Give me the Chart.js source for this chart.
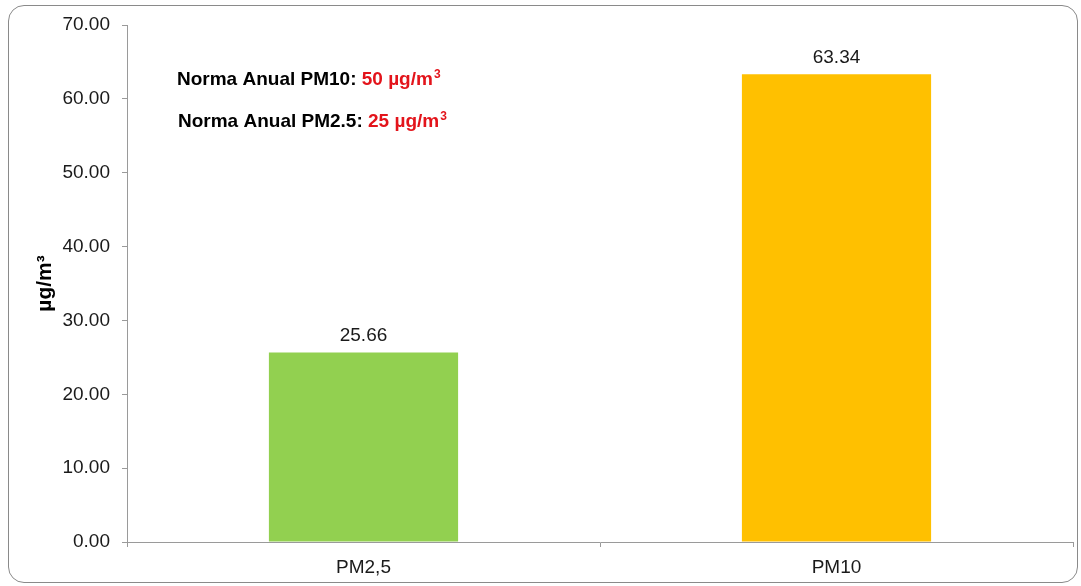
<!DOCTYPE html>
<html>
<head>
<meta charset="utf-8">
<script src="https://cdn.jsdelivr.net/npm/chart.js@4.4.1/dist/chart.umd.min.js"></script>
<style>
  html, body { margin: 0; padding: 0; background: #fff; }
  #wrap { position: relative; width: 1081px; height: 586px; }
  #frame {
    position: absolute; left: 8px; top: 5px; width: 1070px; height: 578px;
    border: 1.5px solid #8a8a8a; border-radius: 16px; box-sizing: border-box;
  }
  canvas { position: absolute; left: 0; top: 0; }
</style>
</head>
<body>
<div id="wrap">
  <div id="frame"></div>
  <canvas id="c" width="1081" height="586"></canvas>
</div>
<script>
// Annual mean concentrations by particle fraction
const categories = ['PM2,5', 'PM10'];
const concentrations = [25.66, 63.34];
const barColors = ['#92d050', '#ffc000'];
const yTicks = [0, 10, 20, 30, 40, 50, 60, 70];
const yUnit = 'µg/m³';

// Annual standards shown as a note in the upper left
const normLines = [
  { label: 'Norma Anual PM10: ', value: '50 µg/m', sup: '3' },
  { label: 'Norma Anual PM2.5: ', value: '25 µg/m', sup: '3' }
];

const FONT = '"Liberation Sans", Arial, sans-serif';

// Value labels above each bar
const valueLabels = {
  id: 'valueLabels',
  afterDatasetsDraw(chart) {
    const ctx = chart.ctx;
    const meta = chart.getDatasetMeta(0);
    ctx.save();
    ctx.font = '19px ' + FONT;
    ctx.fillStyle = '#1a1a1a';
    ctx.textAlign = 'center';
    ctx.textBaseline = 'alphabetic';
    meta.data.forEach((bar, i) => {
      ctx.fillText(concentrations[i].toFixed(2), bar.x, bar.y - 11);
    });
    ctx.restore();
  }
};

// Standards note with red values and superscripts
const normNote = {
  id: 'normNote',
  afterDraw(chart) {
    const ctx = chart.ctx;
    ctx.save();
    ctx.textBaseline = 'alphabetic';
    ctx.textAlign = 'left';
    const starts = [{ x: 177, y: 85 }, { x: 178, y: 127 }];
    normLines.forEach((ln, i) => {
      let x = starts[i].x;
      const y = starts[i].y;
      ctx.font = 'bold 19px ' + FONT;
      ctx.fillStyle = '#000';
      ctx.fillText(ln.label, x, y);
      x += ctx.measureText(ln.label).width;
      ctx.fillStyle = '#e3141b';
      ctx.fillText(ln.value, x, y);
      x += ctx.measureText(ln.value).width;
      ctx.font = 'bold 12px ' + FONT;
      ctx.fillText(ln.sup, x + 1, y - 7);
    });
    ctx.restore();
  }
};

new Chart(document.getElementById('c'), {
  type: 'bar',
  data: {
    labels: categories,
    datasets: [{
      data: concentrations,
      backgroundColor: barColors,
      borderWidth: 0,
      categoryPercentage: 1.0,
      barPercentage: 0.4
    }]
  },
  options: {
    responsive: false,
    animation: false,
    layout: { padding: { left: 0, top: 25, right: 8, bottom: 0 } },
    plugins: { legend: { display: false }, tooltip: { enabled: false } },
    scales: {
      x: {
        offset: true,
        grid: { display: true, offset: true, drawOnChartArea: false, drawTicks: true, tickLength: 5, color: '#9a9a9a' },
        border: { color: '#9a9a9a', width: 1 },
        ticks: { color: '#1a1a1a', font: { size: 19, family: FONT }, padding: 9 },
        afterFit(s) { s.height = 44; }
      },
      y: {
        min: 0,
        max: 70,
        afterBuildTicks(s) { s.ticks = yTicks.map(v => ({ value: v })); },
        grid: { display: true, drawOnChartArea: false, drawTicks: true, tickLength: 5, color: '#9a9a9a' },
        border: { color: '#9a9a9a', width: 1 },
        ticks: {
          color: '#1a1a1a',
          font: { size: 19, family: FONT },
          padding: 12,
          callback: v => Number(v).toFixed(2)
        },
        title: {
          display: true,
          text: yUnit,
          color: '#000',
          font: { size: 21, weight: 'bold', family: FONT },
          padding: { top: 33, bottom: 0 }
        },
        afterFit(s) { s.width = 127; }
      }
    }
  },
  plugins: [valueLabels, normNote]
});
</script>
</body>
</html>
